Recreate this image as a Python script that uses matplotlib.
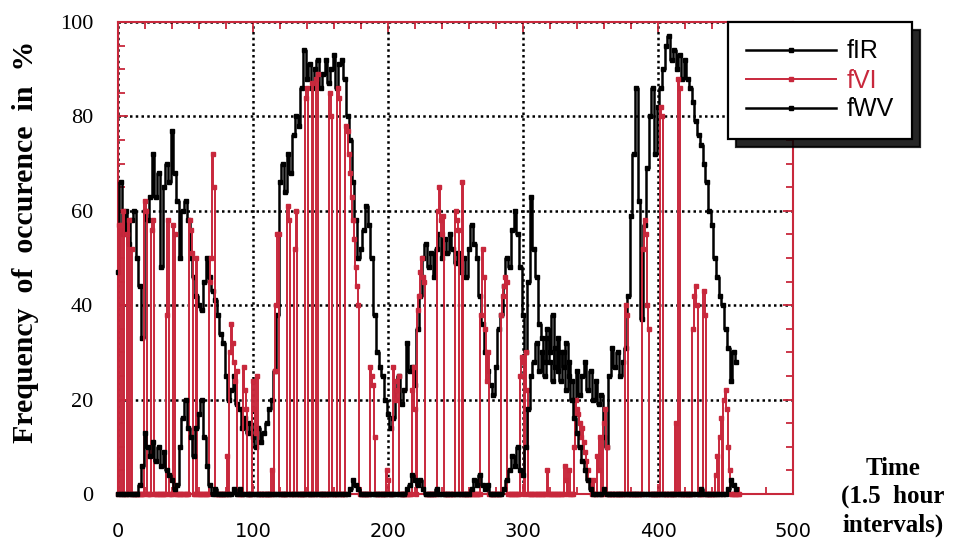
import numpy as np
import matplotlib
matplotlib.use('Agg')
import matplotlib.pyplot as plt
from matplotlib.ticker import MultipleLocator

# ---------------- data ----------------
# fIR and fWV read every 2 time steps (0..458)
t_ir = list(range(0, 460, 2))
fIR = [
    47, 66, 55, 60, 53, 58, 60, 50, 44, 33,
    60, 58, 63, 72, 63, 68, 48, 65, 70, 66,
    77, 68, 62, 50, 60, 62, 58, 50, 46, 42,
    40, 39, 45, 50, 46, 43, 41, 38, 34, 32,
    25, 20, 22, 25, 19, 18, 14, 16, 13, 15,
    12, 10, 14, 11, 13, 15, 18, 20, 26, 38,
    66, 70, 64, 72, 68, 76, 80, 78, 86, 94,
    88, 91, 86, 90, 92, 86, 89, 92, 87, 90,
    93, 86, 91, 92, 88, 80, 75, 66, 58, 50,
    52, 56, 61, 57, 50, 38, 30, 27, 25, 20,
    17, 14, 16, 22, 25, 19, 22, 32, 26, 27,
    23, 35, 42, 50, 53, 48, 51, 46, 52, 55,
    50, 54, 51, 55, 52, 49, 51, 47, 50, 46,
    52, 57, 53, 50, 42, 36, 30, 26, 23, 21,
    27, 35, 38, 44, 50, 48, 56, 60, 55, 48,
    38, 30, 45, 63, 52, 46, 36, 33, 28, 35,
    30, 38, 27, 33, 24, 30, 22, 28, 24, 20,
    26, 21, 25, 28, 22, 26, 20, 24, 19, 21,
    12, 10, 25, 31, 27, 30, 25, 28, 31, 42,
    59, 72, 86, 62, 37, 57, 69, 80, 86, 72,
    82, 86, 90, 95, 97, 92, 94, 90, 93, 88,
    92, 88, 86, 83, 79, 76, 74, 70, 66, 60,
    57, 50, 46, 42, 40, 35, 31, 24, 30, 28,
]

t_wv = list(range(0, 460, 2))
fWV = [
    0, 0, 0, 0, 0, 0, 0, 0, 2, 6,
    13, 10, 8, 11, 7, 10, 6, 9, 5, 4,
    3, 1, 2, 10, 16, 20, 14, 12, 8, 14,
    17, 20, 12, 6, 2, 0, 1, 0, 0, 0,
    0, 0, 0, 1, 0, 1, 0, 0, 0, 0,
    0, 0, 0, 0, 0, 0, 0, 0, 0, 0,
    0, 0, 0, 0, 0, 0, 0, 0, 0, 0,
    0, 0, 0, 0, 0, 0, 0, 0, 0, 0,
    0, 0, 0, 0, 0, 0, 1, 3, 2, 1,
    0, 0, 0, 0, 0, 0, 0, 0, 0, 0,
    0, 0, 0, 0, 0, 0, 0, 1, 2, 4,
    3, 2, 3, 1, 0, 0, 0, 0, 1, 0,
    0, 0, 0, 0, 0, 0, 0, 0, 0, 0,
    0, 1, 3, 2, 4, 2, 1, 2, 0, 0,
    0, 0, 0, 1, 3, 5, 8, 6, 10, 5,
    4, 10, 18, 25, 28, 32, 26, 30, 25, 33,
    28, 24, 31, 26, 30, 27, 32, 25, 20, 16,
    13, 10, 7, 5, 3, 1, 0, 0, 0, 0,
    1, 0, 0, 0, 0, 0, 0, 0, 0, 0,
    0, 0, 0, 0, 0, 0, 0, 0, 0, 0,
    0, 0, 0, 0, 0, 0, 0, 0, 0, 0,
    0, 0, 0, 0, 0, 0, 1, 0, 0, 0,
    0, 0, 0, 0, 0, 0, 1, 3, 2, 1,
]

# fVI read every time step (0..460)
t_vi = list(range(0, 461))
fVI = [
    0, 57, 57, 0, 60, 0, 0, 55, 58, 0,
    52, 0, 0, 0, 0, 0, 0, 0, 0, 0,
    62, 60, 0, 0, 0, 56, 58, 0, 0, 0,
    0, 0, 0, 0, 0, 0, 38, 58, 0, 0,
    0, 57, 55, 0, 0, 0, 0, 0, 0, 0,
    0, 0, 0, 58, 56, 51, 0, 0, 50, 0,
    0, 0, 0, 0, 0, 0, 0, 0, 45, 50,
    72, 65, 0, 0, 0, 0, 0, 0, 0, 0,
    0, 8, 0, 30, 36, 32, 28, 24, 26, 0,
    0, 0, 0, 27, 22, 18, 0, 0, 0, 0,
    24, 18, 13, 25, 0, 0, 0, 0, 0, 0,
    0, 0, 0, 0, 5, 0, 26, 40, 55, 55,
    0, 0, 0, 0, 0, 0, 61, 58, 0, 0,
    0, 52, 60, 0, 0, 0, 0, 0, 0, 84,
    86, 0, 0, 0, 87, 0, 0, 88, 89, 0,
    0, 0, 0, 0, 0, 0, 0, 85, 80, 0,
    0, 0, 0, 86, 84, 0, 0, 0, 0, 78,
    77, 72, 68, 63, 58, 54, 48, 44, 40, 0,
    0, 0, 0, 0, 0, 0, 0, 27, 25, 23,
    12, 0, 0, 0, 0, 0, 0, 0, 0, 5,
    3, 0, 0, 0, 27, 24, 20, 22, 25, 0,
    0, 0, 0, 0, 0, 0, 0, 0, 22, 27,
    18, 0, 39, 42, 47, 50, 46, 45, 0, 0,
    0, 0, 0, 0, 0, 0, 0, 60, 65, 58,
    55, 59, 0, 0, 0, 0, 0, 0, 0, 0,
    60, 58, 56, 0, 0, 66, 0, 0, 0, 0,
    0, 0, 0, 0, 0, 0, 0, 0, 0, 38,
    52, 46, 35, 24, 30, 0, 0, 0, 0, 0,
    0, 0, 0, 0, 38, 42, 44, 46, 45, 0,
    0, 0, 0, 0, 0, 0, 0, 0, 25, 29,
    28, 0, 30, 22, 0, 0, 0, 0, 0, 0,
    0, 0, 0, 0, 0, 0, 0, 0, 5, 0,
    0, 0, 0, 0, 0, 0, 0, 0, 0, 0,
    0, 6, 3, 0, 5, 0, 0, 0, 10, 20,
    18, 17, 15, 12, 14, 11, 9, 7, 5, 3,
    2, 0, 3, 0, 0, 8, 5, 12, 0, 0,
    15, 18, 10, 0, 0, 0, 0, 0, 0, 0,
    0, 0, 0, 0, 0, 0, 40, 38, 0, 0,
    0, 0, 0, 0, 0, 0, 0, 0, 0, 52,
    58, 55, 40, 35, 0, 0, 0, 0, 0, 0,
    0, 0, 82, 80, 0, 0, 0, 0, 0, 0,
    0, 0, 0, 15, 0, 88, 86, 0, 0, 0,
    0, 0, 0, 0, 0, 0, 35, 42, 44, 40,
    0, 0, 0, 0, 43, 38, 0, 0, 0, 0,
    0, 0, 0, 4, 8, 0, 12, 16, 0, 20,
    22, 18, 10, 5, 0, 0, 0, 0, 0, 0,
    0,
]

series_labels = ['fIR', 'fVI', 'fWV']
x_ticks = [0, 100, 200, 300, 400, 500]
y_ticks = [0, 20, 40, 60, 80, 100]
y_label = 'Frequency  of  occurence  in  %'
x_label = 'Time\n(1.5  hour\nintervals)'

# ---------------- style ----------------
RED = '#c8283c'
W, H = 961, 544
fig = plt.figure(figsize=(W / 100, H / 100), dpi=100)
ax = fig.add_axes([118 / W, 50 / H, 675 / W, 472 / H])

ax.plot(t_ir, fIR, color='black', lw=1.8, marker='s', ms=3.0,
        drawstyle='steps-mid', label=series_labels[0], zorder=3, clip_on=False)
ax.plot(t_vi, fVI, color=RED, lw=1.4, marker='s', ms=2.2,
        drawstyle='steps-mid', label=series_labels[1], zorder=4, clip_on=False)
ax.plot(t_wv, fWV, color='black', lw=1.8, marker='s', ms=3.0,
        drawstyle='steps-mid', label=series_labels[2], zorder=5, clip_on=False)

ax.set_xlim(0, 500)
ax.set_ylim(0, 100)
ax.set_xticks(x_ticks)
ax.set_yticks(y_ticks)
ax.xaxis.set_minor_locator(MultipleLocator(20))
ax.yaxis.set_minor_locator(MultipleLocator(5))

ax.grid(True, which='major', color='black', linestyle=(0, (1, 1.3)), lw=1.8)
ax.set_axisbelow(True)

for sp in ax.spines.values():
    sp.set_color(RED)
    sp.set_linewidth(1.5)

ax.tick_params(which='both', direction='in', color=RED, top=True, right=True,
               labelcolor='black')
ax.tick_params(which='major', length=7, width=1.3)
ax.tick_params(which='minor', length=5, width=1.3)
ax.tick_params(axis='x', pad=20)
ax.tick_params(axis='y', pad=18)
for lab in ax.get_xticklabels():
    lab.set_fontfamily('DejaVu Sans')
    lab.set_fontsize(14)
for lab in ax.get_yticklabels():
    lab.set_fontfamily('Liberation Serif')
    lab.set_fontsize(16)

fig.text(26 / W, 1 - 242 / H, y_label, rotation=90, ha='center', va='center',
         fontsize=21.5, fontweight='bold', family='Liberation Serif')
fig.text(893 / W, 1 - 497 / H, x_label, ha='center', va='center',
         multialignment='center', fontsize=18, fontweight='bold',
         family='Liberation Serif', linespacing=1.3)

leg = ax.legend(loc='upper left', bbox_to_anchor=(728 / W, 1 - 22 / H),
                bbox_transform=fig.transFigure,
                prop={'family': 'Liberation Sans', 'size': 18},
                handlelength=3.6, handletextpad=0.45, labelspacing=0.2,
                borderpad=0.7, borderaxespad=0, numpoints=1,
                fancybox=False, edgecolor='black', framealpha=1,
                shadow={'color': 'black', 'alpha': 0.85, 'ox': 6, 'oy': -6})
leg.get_frame().set_linewidth(1.6)
for txt, c in zip(leg.get_texts(), ['black', RED, 'black']):
    txt.set_color(c)

fig.savefig('out.png', dpi=100)
